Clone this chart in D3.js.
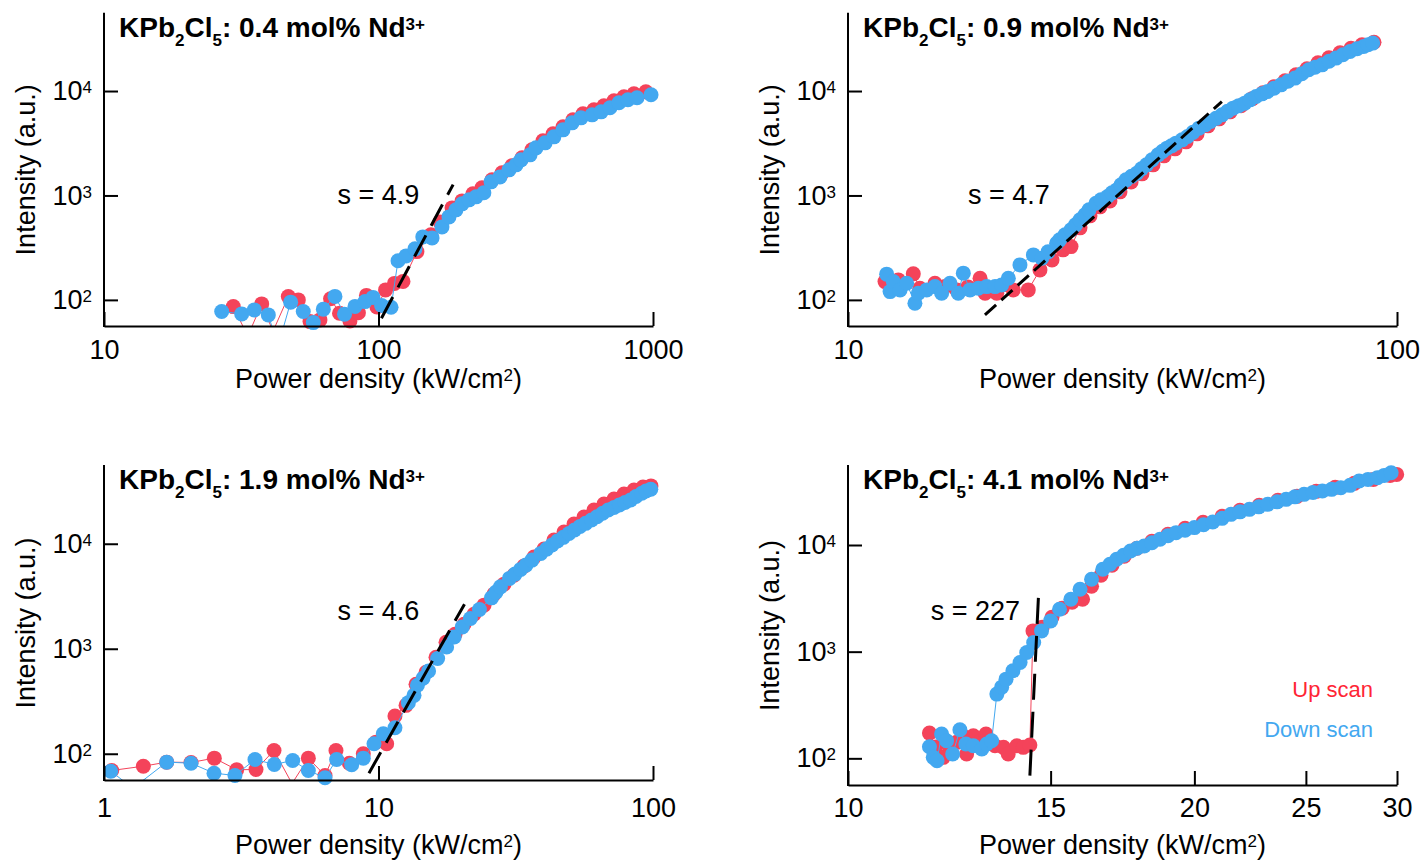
<!DOCTYPE html>
<html>
<head>
<meta charset="utf-8">
<script src="https://cdn.jsdelivr.net/npm/d3@7"></script>
<style>
body { margin: 0; background: #fff; }
svg { display: block; font-family: "Liberation Sans", Arial, Helvetica, sans-serif; }
</style>
</head>
<body>
<svg id="chart" width="1423" height="862"></svg>
<script>
// ---- data: [power density (kW/cm2), intensity (a.u.)] ----
// 0.4 mol%
var up04 = [[29.58, 86.3], [33.4, 45], [37.54, 91.5], [41.27, 50], [46.93, 107.5], [51.04, 100], [56.3, 62], [61.2, 64.3],
    [66.9, 102.7], [72.1, 74.6], [78.7, 62.9], [84.5, 75.4], [90.4, 110.4], [98.7, 85.7], [106.1, 124.7], [114.3, 143.9],
    [122.8, 150.4], [138, 290], [155.2, 419.5], [167.5, 558.5], [185.3, 760], [201.5, 887], [220.8, 1036], [238.2, 1183],
    [259.2, 1410], [281.9, 1646], [306.3, 1921], [333.4, 2291], [362.2, 2734], [397.2, 3337], [432.5, 3890], [470, 4540],
    [511, 5297], [555.9, 6047], [609.5, 6607], [662.6, 7217], [720.8, 8054], [783.9, 8790], [852.4, 9393], [942, 9818]];
var down04 = [[26.84, 77.3], [31.74, 73.4], [35.28, 80.2], [39.68, 71.8], [43.05, 36], [47.86, 95.1], [53.2, 77.3],
    [57.88, 60.6], [62.95, 81.5], [69.4, 108], [75.2, 73], [82.1, 86.6], [89.3, 96.3], [95.5, 105.7], [102.6, 88.6],
    [111.1, 85.1], [117.8, 236.8], [126, 263.8], [135.8, 308], [145, 401], [156.7, 392.5], [170.3, 500], [180.6, 623.5],
    [191.5, 728], [201.5, 831.5], [213.6, 908], [226.6, 970], [242, 1060], [257, 1350], [277, 1506], [298.8, 1758],
    [317, 1963], [330.5, 2193], [356.5, 2448], [374.7, 2858], [404.5, 3190], [435.5, 3642], [470, 4250], [507, 4956],
    [546.5, 5534], [599.8, 5912], [647, 6320], [697, 6905], [751.6, 7710], [810.6, 8240], [874.6, 8610], [983.6, 9205]];
var fit04 = [[102.5, 66.8], [187, 1270]];

// 0.9 mol%
var up09 = [[11.68, 149.7], [12.35, 155.4], [13.15, 177.5], [13.52, 129.4], [14.4, 144.5], [15.02, 134.1], [15.78, 124.7],
    [16.54, 133.2], [17.4, 161.4], [17.77, 115.9], [18.66, 115.9], [20.0, 124.7], [21.3, 124.7], [22.37, 193.8],
    [23.53, 241.6], [24.64, 301.3], [25.48, 324], [26.46, 489.5], [27.59, 637.8], [28.77, 778], [30.0, 887], [31.29, 1083],
    [32.78, 1349], [34.31, 1610], [35.94, 1963], [37.63, 2395], [39.41, 2796], [41.28, 3262], [43.23, 3890], [45.27, 4642],
    [47.41, 5417], [49.65, 6322], [51.99, 7217], [54.45, 8414], [57.0, 9612], [59.7, 10970], [62.52, 12530], [65.46, 14290],
    [68.55, 16320], [71.8, 18620], [75.16, 20790], [78.74, 23230], [82.45, 25650], [86.35, 27700], [90.8, 29280]];
var down09 = [[11.76, 176.3], [11.93, 120.1], [12.09, 149.7], [12.44, 124.7], [12.79, 144.5], [13.24, 93], [13.43, 115.9],
    [13.91, 124.7], [14.4, 134.1], [14.81, 115.9], [15.34, 144.5], [15.88, 115.9], [16.22, 180.3], [16.68, 124.7],
    [17.27, 129.4], [17.89, 134.1], [18.53, 134.1], [19.05, 139.2], [19.59, 161.4], [20.57, 216.4], [21.76, 269.8],
    [22.54, 250.8], [23.14, 288.3], [23.99, 349.1], [24.29, 375.6], [24.85, 419.5], [25.48, 468.3], [25.97, 523],
    [26.46, 583.9], [27.02, 652], [27.48, 727.8], [28.29, 843.3], [28.89, 907.7], [29.71, 976], [30.26, 1059],
    [30.87, 1131], [31.43, 1263], [32.09, 1410], [32.84, 1524], [33.6, 1635], [34.24, 1798], [34.97, 1963], [35.79, 2193],
    [36.7, 2449], [37.4, 2645], [38.11, 2838], [38.83, 2985], [39.57, 3170], [40.6, 3409], [41.55, 3665], [42.5, 4022],
    [43.58, 4412], [44.7, 4745], [45.74, 5102], [46.8, 5477], [48.0, 5914], [49.13, 6392], [50.27, 6854], [51.5, 7245],
    [52.8, 7655], [53.96, 8236], [55.37, 8855], [56.77, 9397], [58.12, 9887], [59.7, 10620], [61.48, 11460], [63.3, 12390],
    [65.2, 13290], [67.1, 14620], [69.06, 15960], [70.9, 16870], [73.02, 17820], [75.2, 19250], [77.43, 20660],
    [79.7, 22220], [82.12, 23880], [84.6, 25360], [86.96, 26670], [88.56, 27700], [90.31, 28770]];
var fit09 = [[17.76, 71.8], [47.97, 7925]];

// 1.9 mol%
var up19 = [[0.97, 78], [1.067, 69.3], [1.391, 76.1], [1.692, 83.2], [2.075, 82.6], [2.523, 90.8], [3.044, 70.4],
    [3.579, 70.8], [4.162, 107.5], [4.84, 52], [5.551, 90.8], [6.385, 62.1], [7.0, 107.5], [7.83, 81.3], [8.804, 100],
    [9.79, 129], [10.71, 124.6], [11.48, 228.5], [12.6, 289], [13.7, 458.4], [14.9, 596.9], [16.2, 829.6], [17.62, 1153],
    [19.0, 1375], [20.49, 1714], [22.28, 2134], [24.23, 2601], [26.35, 3311], [28.66, 4125], [31.16, 5024], [33.88, 6124],
    [36.86, 7464], [40.08, 8895], [43.58, 10840], [47.4, 12910], [51.54, 15410], [56.05, 17980], [60.95, 20960],
    [66.29, 23920], [72.1, 26700], [78.42, 29790], [85.28, 32540], [91.96, 34760], [98.3, 35560]];
var down19 = [[1.058, 68.2], [1.275, 47], [1.692, 83.2], [2.075, 81.3], [2.516, 65.3], [3.0, 62.1], [3.549, 88.2],
    [4.173, 79.1], [4.868, 86.3], [5.551, 69.3], [6.385, 59.0], [7.04, 88.2], [7.988, 78.5], [8.804, 90.8], [9.63, 124.6],
    [10.41, 155.2], [11.48, 177], [12.85, 306.6], [13.47, 360], [13.86, 448.5], [14.53, 523], [15.22, 614.1],
    [16.42, 806.3], [17.71, 1040], [18.87, 1296], [20.2, 1614], [21.62, 1941], [23.32, 2366], [25.8, 3053], [26.8, 3462],
    [27.81, 3888], [29.99, 4675], [31.43, 5140], [32.94, 5697], [34.46, 6264], [36.22, 6991], [39.02, 8097], [40.93, 8895],
    [42.86, 9719], [44.88, 10610], [47.12, 11510], [49.43, 12510], [51.76, 13510], [54.2, 14590], [56.86, 15650],
    [59.7, 16830], [62.52, 18100], [65.54, 19500], [68.68, 20970], [72.1, 22150], [75.44, 23410], [79.07, 24720],
    [82.87, 26120], [86.7, 28210], [91.04, 30270], [94.3, 31840], [98.17, 33040]];
var fit19 = [[9.23, 65.3], [20.57, 2659]];

// 4.1 mol%
var up41 = [[11.77, 172.5], [11.92, 127.6], [12.1, 102.2], [12.27, 122.2], [12.43, 141.2], [12.59, 161.8], [12.68, 109.7],
    [12.85, 162.8], [13.02, 142.1], [13.18, 168.8], [13.42, 131.2], [13.65, 126.8], [13.78, 109.7], [14.02, 131.2],
    [14.2, 126.8], [14.39, 133.2], [14.48, 1566], [14.75, 1696], [15.04, 2104], [15.35, 2555], [15.66, 2907],
    [15.99, 3101], [16.28, 4105], [16.59, 5203], [16.96, 6455], [17.38, 7837], [17.83, 9311], [18.37, 10830],
    [18.97, 12590], [19.63, 14330], [20.35, 16320], [21.14, 18570], [21.91, 21130], [22.77, 23530], [23.64, 26210],
    [24.56, 28580], [25.52, 31830], [26.51, 34700], [27.54, 37830], [28.61, 41230], [29.59, 44940], [29.98, 45920]];
var down41 = [[11.77, 128.4], [11.86, 102.2], [11.95, 94.96], [12.06, 168.8], [12.18, 146.2], [12.33, 109.7],
    [12.51, 185.3], [12.66, 136.1], [12.85, 131.2], [13.07, 122.2], [13.2, 136.1], [13.33, 146.2], [13.47, 400],
    [13.6, 465], [13.72, 552.7], [13.91, 661], [14.11, 792.4], [14.3, 983], [14.5, 1220], [14.73, 1566], [15.0, 1943],
    [15.27, 2500], [15.62, 3101], [15.91, 3847], [16.28, 4773], [16.65, 5923], [16.89, 6596], [17.12, 7346], [17.36, 8011],
    [17.6, 8786], [17.83, 9311], [18.09, 9786], [18.37, 10490], [18.67, 11310], [18.97, 12200], [19.28, 13060],
    [19.63, 13730], [20.0, 14560], [20.37, 15460], [20.75, 16420], [21.14, 17780], [21.52, 19390], [21.91, 20460],
    [22.33, 21600], [22.75, 22790], [23.16, 24050], [23.6, 25380], [24.03, 26790], [24.46, 28270], [24.91, 29840],
    [25.36, 31140], [25.84, 32040], [26.32, 33230], [26.81, 34470], [27.31, 36230], [27.81, 39750], [28.31, 41230],
    [28.85, 42780], [29.24, 44940], [29.65, 47640]];
var fit41 = [[14.39, 68.8], [14.64, 3327]];

// ---- labels / ticks ----
var concentrations = ['0.4', '0.9', '1.9', '4.1'];
var slopes = ['4.9', '4.7', '4.6', '227'];
var yTicks = [1e2, 1e3, 1e4];
var xMajor04 = [10, 100, 1000], xMinor04 = [20, 30, 40, 50, 60, 70, 80, 90, 200, 300, 400, 500, 600, 700, 800, 900];
var xMajor09 = [10, 100], xMinor09 = [20, 30, 40, 50, 60, 70, 80, 90];
var xMajor19 = [1, 10, 100], xMinor19 = [2, 3, 4, 5, 6, 7, 8, 9, 20, 30, 40, 50, 60, 70, 80, 90];
var xMajor41 = [10, 15, 20, 25, 30], xMinor41 = [11, 12, 13, 14, 16, 17, 18, 19, 21, 22, 23, 24, 26, 27, 28, 29];
var legendLabels = ['Up scan', 'Down scan'];

var RED = '#f4435a', BLUE = '#43a8f0', RED_TEXT = '#ff2535';

// ---- layout (pixels) ----
var panels = [
    {up: up04, down: down04, fit: fit04, xDomain: [10, 1000], xMajor: xMajor04, xMinor: xMinor04,
     l: 104, r: 653, t: 12.7, b: 326, xPad: 14, xTitleY: 388, sX: 337.5, sY: 204, dash: '24,11'},
    {up: up09, down: down09, fit: fit09, xDomain: [10, 100], xMajor: xMajor09, xMinor: xMinor09,
     l: 848, r: 1397, t: 12.7, b: 326, xPad: 14, xTitleY: 388, sX: 968, sY: 204, dash: '15,7'},
    {up: up19, down: down19, fit: fit19, xDomain: [1, 100], xMajor: xMajor19, xMinor: xMinor19,
     l: 104, r: 653, t: 465, b: 780, xPad: 18, xTitleY: 854, sX: 337.5, sY: 620, dash: '24,11'},
    {up: up41, down: down41, fit: fit41, xDomain: [10, 30], xMajor: xMajor41, xMinor: xMinor41,
     l: 848, r: 1397, t: 465, b: 785, xPad: 13, xTitleY: 854, sX: 930.7, sY: 620, dash: '26,12', legend: true}
];
var yDomain = [Math.pow(10, 1.75), Math.pow(10, 4.75)];

var svg = d3.select('#chart');

function styleAxis(g) {
    g.selectAll('path.domain').attr('stroke', '#000').attr('stroke-width', 2);
    g.selectAll('.tick line').attr('stroke', '#000').attr('stroke-width', 2);
    g.selectAll('.tick text').attr('fill', '#000').attr('font-size', 27).attr('font-family', null);
}

function drawPanel(p, i) {
    var x = d3.scaleLog().domain(p.xDomain).range([p.l, p.r]),
        y = d3.scaleLog().domain(yDomain).range([p.b, p.t]),
        g = svg.append('g').attr('class', 'panel panel-' + i),
        clipId = 'clip-' + i,
        line = d3.line().x(function (d) { return x(d[0]); }).y(function (d) { return y(d[1]); });

    g.append('clipPath').attr('id', clipId)
        .append('rect').attr('x', p.l).attr('y', p.t).attr('width', p.r - p.l).attr('height', p.b - p.t);

    function inside(d) {
        return d[0] >= p.xDomain[0] && d[0] <= p.xDomain[1] && d[1] >= yDomain[0] && d[1] <= yDomain[1];
    }

    // 1 traces: up scan first, down scan on top
    [[p.up, RED], [p.down, BLUE]].forEach(function (s) {
        g.append('path').datum(s[0])
            .attr('clip-path', 'url(#' + clipId + ')')
            .attr('fill', 'none').attr('stroke', s[1]).attr('stroke-width', 1)
            .attr('d', line);
        g.append('g').selectAll('circle').data(s[0].filter(inside)).enter().append('circle')
            .attr('cx', function (d) { return x(d[0]); })
            .attr('cy', function (d) { return y(d[1]); })
            .attr('r', 7.5)
            .attr('fill', s[1]);
    });

    // 2 power-law fit (dashed)
    g.append('path').datum(p.fit)
        .attr('fill', 'none').attr('stroke', '#000').attr('stroke-width', 3)
        .attr('stroke-dasharray', p.dash)
        .attr('d', line);

    // 3 axes, ticks pointing inward
    var xg = g.append('g').attr('transform', 'translate(0,' + p.b + ')');
    xg.call(d3.axisBottom(x).tickValues(p.xMinor).tickSize(-7).tickSizeOuter(0).tickFormat(''));
    xg.call(d3.axisBottom(x).tickValues(p.xMajor).tickSize(-14).tickSizeOuter(0).tickPadding(p.xPad)
        .tickFormat(d3.format('d')));
    styleAxis(xg);

    var yg = g.append('g').attr('transform', 'translate(' + p.l + ',0)');
    yg.call(d3.axisLeft(y).tickValues(yTicks).tickSize(-14).tickSizeOuter(0).tickPadding(12).tickFormat(''));
    styleAxis(yg);
    yg.selectAll('.tick text').each(function (d) {
        var t = d3.select(this);
        t.append('tspan').text('10');
        t.append('tspan').attr('dy', -7).attr('font-size', 17).text(Math.round(Math.log10(d)));
    });
    // ends of the axis lines meet in the corner
    yg.select('path.domain').attr('d', 'M0,' + (p.b + 1) + 'V' + p.t);

    // 4 axis titles
    var xt = g.append('text')
        .attr('x', (p.l + p.r) / 2).attr('y', p.xTitleY)
        .attr('text-anchor', 'middle').attr('font-size', 27);
    xt.append('tspan').text('Power density (kW/cm');
    xt.append('tspan').attr('dy', -7).attr('font-size', 17).text('2');
    xt.append('tspan').attr('dy', 7).text(')');

    g.append('text')
        .attr('transform', 'translate(' + (p.l - 69) + ',' + ((p.t + p.b) / 2 + 0.5) + ') rotate(-90)')
        .attr('text-anchor', 'middle').attr('font-size', 27)
        .text('Intensity (a.u.)');

    // 5 sample title
    var tt = g.append('text')
        .attr('x', p.l + 15).attr('y', p.t + 24)
        .attr('font-size', 28).attr('font-weight', 'bold');
    tt.append('tspan').text('KPb');
    tt.append('tspan').attr('dy', 9).attr('font-size', 17).text('2');
    tt.append('tspan').attr('dy', -9).text('Cl');
    tt.append('tspan').attr('dy', 9).attr('font-size', 17).text('5');
    tt.append('tspan').attr('dy', -9).text(': ' + concentrations[i] + ' mol% Nd');
    tt.append('tspan').attr('dy', -7).attr('font-size', 17).text('3+');

    // 6 slope annotation
    g.append('text').attr('x', p.sX).attr('y', p.sY).attr('font-size', 27)
        .text('s = ' + slopes[i]);

    // 7 legend
    if (p.legend) {
        g.append('text').attr('x', 1373).attr('y', 697).attr('text-anchor', 'end')
            .attr('font-size', 22).attr('fill', RED_TEXT).text(legendLabels[0]);
        g.append('text').attr('x', 1373).attr('y', 737).attr('text-anchor', 'end')
            .attr('font-size', 22).attr('fill', BLUE).text(legendLabels[1]);
    }
}

panels.forEach(drawPanel);
</script>
</body>
</html>
